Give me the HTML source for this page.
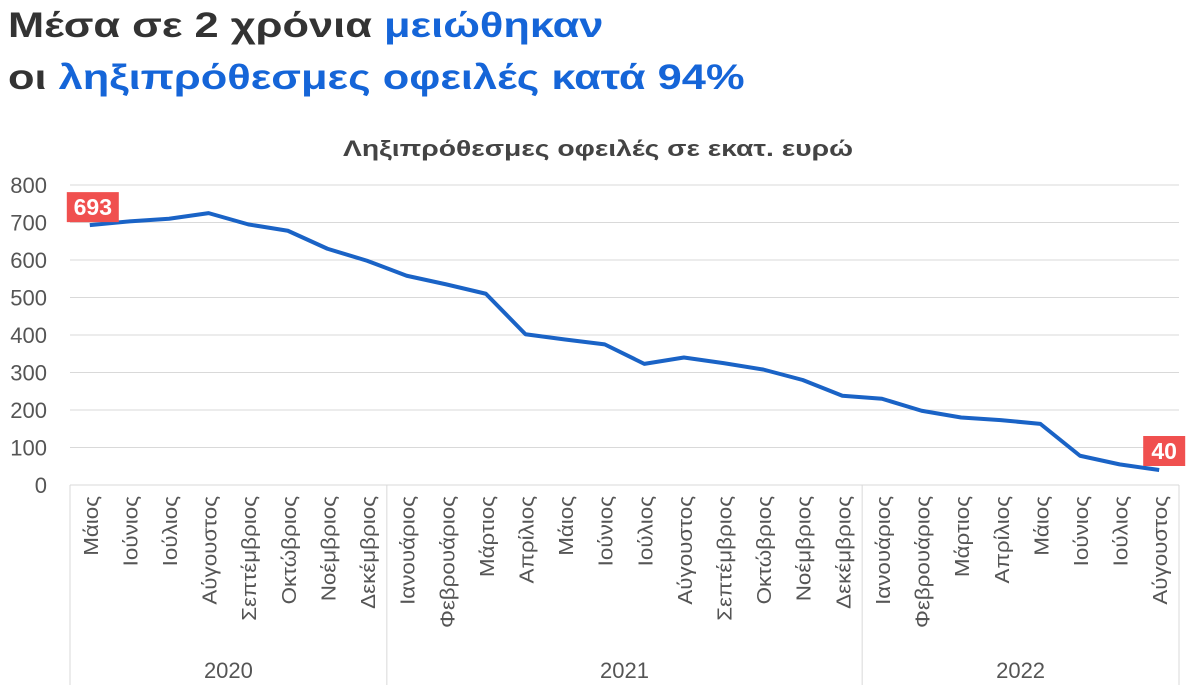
<!DOCTYPE html>
<html><head><meta charset="utf-8">
<style>
body{margin:0;background:#fff;width:1189px;height:695px;overflow:hidden;font-family:"Liberation Sans","DejaVu Sans",sans-serif;}
.t{position:absolute;left:8px;font-weight:bold;font-size:35px;color:#333;transform:scaleX(1.24);transform-origin:left top;white-space:nowrap}
.b{color:#1565d8}
</style></head><body>
<div class="t" style="top:6px">Μέσα σε 2 χρόνια <span class="b">μειώθηκαν</span></div>
<div class="t" style="top:58px">οι <span class="b">ληξιπρόθεσμες οφειλές κατά 94%</span></div>
<svg id="c" width="1189" height="695" style="position:absolute;left:0;top:0"></svg>
<script>
const months=["Μάιος","Ιούνιος","Ιούλιος","Αύγουστος","Σεπτέμβριος","Οκτώβριος","Νοέμβριος","Δεκέμβριος","Ιανουάριος","Φεβρουάριος","Μάρτιος","Απρίλιος","Μάιος","Ιούνιος","Ιούλιος","Αύγουστος","Σεπτέμβριος","Οκτώβριος","Νοέμβριος","Δεκέμβριος","Ιανουάριος","Φεβρουάριος","Μάρτιος","Απρίλιος","Μάιος","Ιούνιος","Ιούλιος","Αύγουστος"];
const years=["2020","2021","2022"];
const yearCounts=[8,12,8];
const values=[693,703,710,725,695,678,630,598,558,535,510,402,388,375,323,340,325,308,280,238,230,198,180,173,163,78,55,40];
const yTicks=[0,100,200,300,400,500,600,700,800];
const NS="http://www.w3.org/2000/svg";
const svg=document.getElementById('c');
const x0=70,x1=1179,yTop=185,yBot=485,yMax=800;
const bw=(x1-x0)/months.length;
const X=i=>x0+bw*(i+0.5);
const Y=v=>yBot-(v/yMax)*(yBot-yTop);
function mk(tag,attrs,text){const e=document.createElementNS(NS,tag);for(const k in attrs)e.setAttribute(k,attrs[k]);if(text!==undefined)e.textContent=text;svg.appendChild(e);return e;}
let e=mk('text',{x:343,y:156,'font-size':22,'font-weight':'bold',fill:'#444',textLength:510,lengthAdjust:'spacingAndGlyphs'},'Ληξιπρόθεσμες οφειλές σε εκατ. ευρώ');


yTicks.forEach(t=>{
  if(t>0){const g=mk('line',{x1:x0,x2:x1,y1:Y(t),y2:Y(t),stroke:'#d9d9d9','stroke-width':1});
  
  }
  const l=mk('text',{x:47,y:Y(t)+8,'text-anchor':'end','font-size':22,fill:'#555'},t);
  
  
});
let a=mk('line',{x1:x0,x2:x1,y1:yBot,y2:yBot,stroke:'#d9d9d9','stroke-width':1});


let acc=0;
const bounds=[0];
yearCounts.forEach(n=>{acc+=n;bounds.push(acc);});
bounds.forEach(b=>{
  const s=mk('line',{x1:x0+b*bw,x2:x0+b*bw,y1:yBot,y2:685,stroke:'#d9d9d9','stroke-width':1});
  
  
});
years.forEach((yr,i)=>{
  const cx=x0+(bounds[i]+bounds[i+1])/2*bw;
  const t=mk('text',{x:cx,y:678,'text-anchor':'middle','font-size':22,fill:'#555'},yr);
  
  
});
months.forEach((m,i)=>{
  const t=mk('text',{transform:`translate(${X(i)+8},496) rotate(-90) scale(1.12,1)`,'text-anchor':'end','font-size':20,fill:'#555'},m);
  
  
});
const p=mk('polyline',{points:values.map((v,i)=>X(i)+','+Y(v)).join(' '),fill:'none',stroke:'#1a63c6','stroke-width':4,'stroke-linejoin':'round'});


{const v=values[0];const w=52,h=30;const bx=X(0)-w/2+3,by=Y(v)-h-3;
const r=mk('rect',{x:bx,y:by,width:w,height:h,fill:'#f0504f'});


const t=mk('text',{x:bx+w/2,y:by+23,'text-anchor':'middle','font-size':23,'font-weight':'bold',fill:'#fff'},v);

}
const last=values.length-1;
{const v=values[last];const w=42,h=30;const bx=X(last)-w/2+5,by=Y(v)-h-4;
const r=mk('rect',{x:bx,y:by,width:w,height:h,fill:'#f0504f'});


const t=mk('text',{x:bx+w/2,y:by+23,'text-anchor':'middle','font-size':23,'font-weight':'bold',fill:'#fff'},v);

}
</script>
</body></html>
